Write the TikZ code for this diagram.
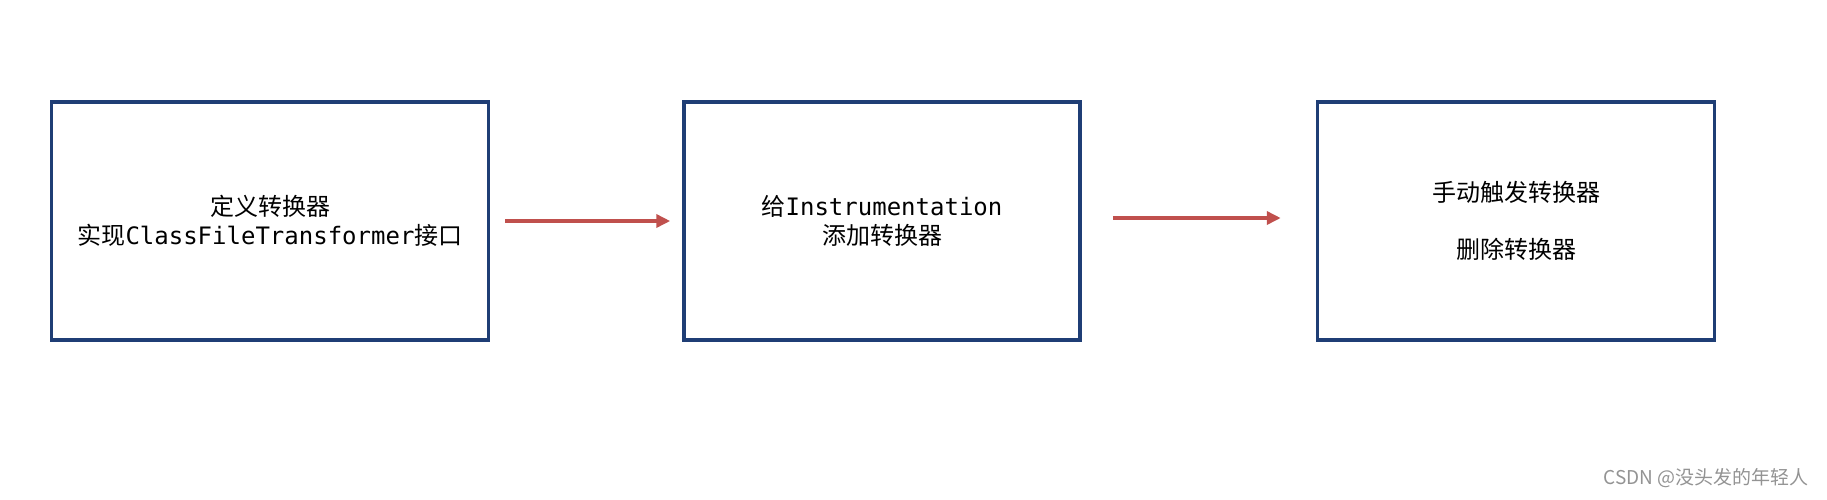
\documentclass[tikz,border=0pt]{standalone}
\usepackage{fontspec}
\setmainfont{Noto Sans CJK SC}
\setmonofont{DejaVu Sans Mono}
\usepackage{xcolor}
\usetikzlibrary{positioning,arrows.meta}
\definecolor{boxblue}{HTML}{1F3E75}
\definecolor{arrred}{HTML}{C0504D}

\begin{document}
\begin{tikzpicture}[
    x=1pt, y=1pt,
    stagebox/.style={rectangle, draw=boxblue, line width=3.5pt, minimum height=238pt, align=center, font=\fontsize{24}{29}\selectfont},
    arr/.style={-{Triangle[length=14pt,width=13pt]}, line width=4pt, color=arrred},
    mark text/.style={font=\fontsize{19}{21}\selectfont, text=gray!85}
]
    \useasboundingbox (0,0) rectangle (1827,-499);

    % Three stages in a row
    \node[stagebox, minimum width=437pt] (define) at (270,-221)
        {定义转换器\\实现\texttt{ClassFileTransformer}接口};
    \node[stagebox, minimum width=396pt, right=192pt of define] (addto)
        {给\texttt{Instrumentation}\\添加转换器};
    \node[stagebox, minimum width=397pt, right=234pt of addto] (trigger)
        {手动触发转换器\\[28pt]删除转换器};

    % Arrows between stages
    \draw[arr, shorten <=15pt, shorten >=12pt] (define) -- (addto);
    \draw[arr, shorten <=31pt, shorten >=35pt] ([yshift=3pt]addto.east) -- ([yshift=3pt]trigger.west);

    % Watermark
    \node[mark text, anchor=east] (mark) at (1812,-478) {CSDN @没头发的年轻人};
\end{tikzpicture}
\end{document}
